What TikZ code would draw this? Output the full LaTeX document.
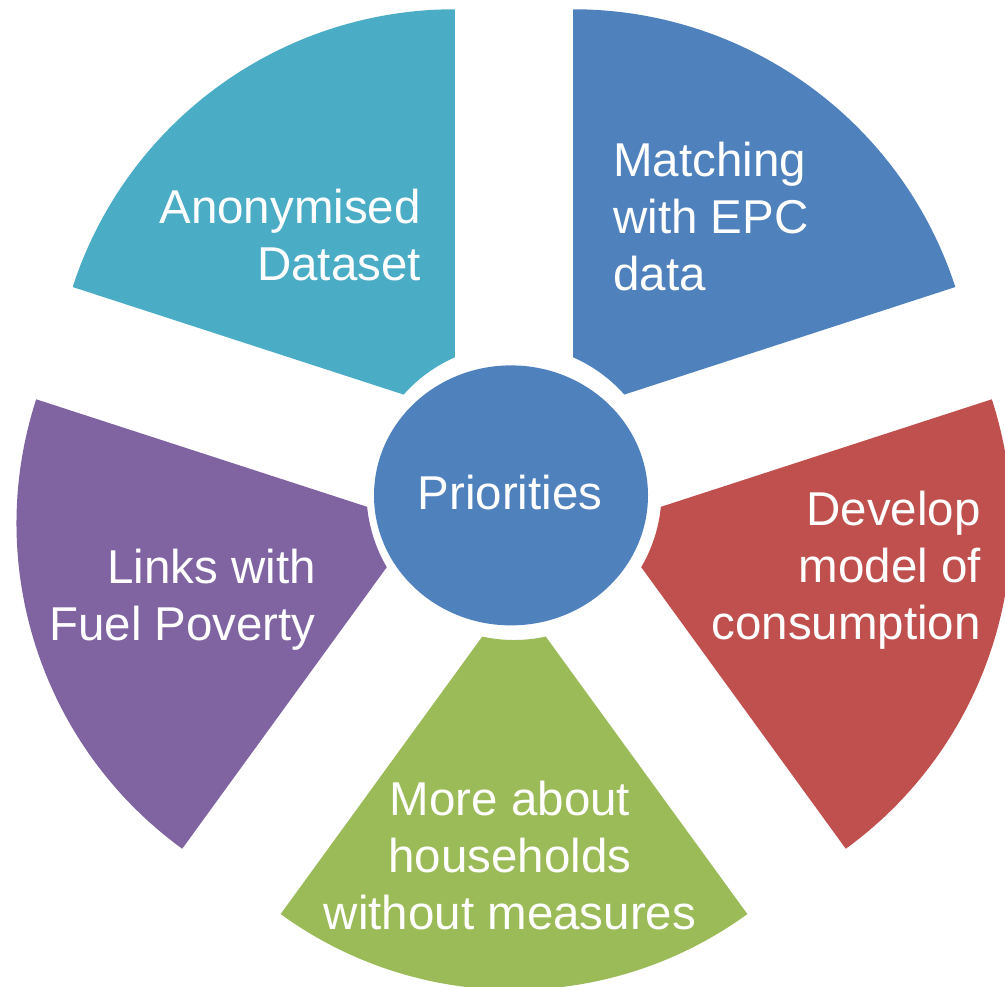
\documentclass[tikz,border=0pt]{standalone}
\usepackage{fontspec}
\setmainfont{Liberation Sans}
\usetikzlibrary{shapes.geometric}
\definecolor{cteal}{HTML}{4BACC6}
\definecolor{cblue}{HTML}{4F81BD}
\definecolor{cred}{HTML}{C0504D}
\definecolor{cgreen}{HTML}{9BBB59}
\definecolor{cpurple}{HTML}{8064A2}
\tikzset{
  lab/.style={text=white, inner sep=0pt, font=\fontsize{47.5}{57}\selectfont},
  segment/.style={fill=#1, draw=none},
}
% #1 rotation, #2 colour, #3 outer radius
\newcommand{\seg}[3]{%
  \begin{scope}[shift={(514,494.5)}, rotate=#1]
    \fill[segment=#2] (-12.42:147.54) -- ($(100.4,0)+(-36:#3)$)
      arc[start angle=-36, end angle=36, radius=#3]
      -- (12.42:147.54)
      arc[start angle=12.42, end angle=-12.42, radius=147.54] -- cycle;
  \end{scope}}
\usetikzlibrary{calc}
\begin{document}
\begin{tikzpicture}[x=1pt,y=1pt]
\useasboundingbox (0,0) rectangle (1005,987);
\seg{126}{cteal}{402}
\seg{54}{cblue}{402}
\seg{-18}{cred}{402}
\seg{270}{cgreen}{397}
\seg{198}{cpurple}{402}
\node[ellipse, fill=cblue, minimum width=274, minimum height=260, inner sep=0pt] (hub) at (511,491.6) {};
\node[lab] (prio) at (510,494.5) {Priorities};
\node[lab, align=right, anchor=east] (anon) at (421,752) {Anonymised\\Dataset};
\node[lab, align=left, anchor=west] (match) at (613,770.3) {Matching\\with EPC\\data};
\node[lab, align=right, anchor=east] (dev) at (981,417) {Develop\\model of\\consumption};
\node[lab, align=right, anchor=east] (links) at (316,387) {Links with\\Fuel Poverty};
\node[lab, align=center] (more) at (510,131) {More about\\households\\without measures};
\end{tikzpicture}
\end{document}
